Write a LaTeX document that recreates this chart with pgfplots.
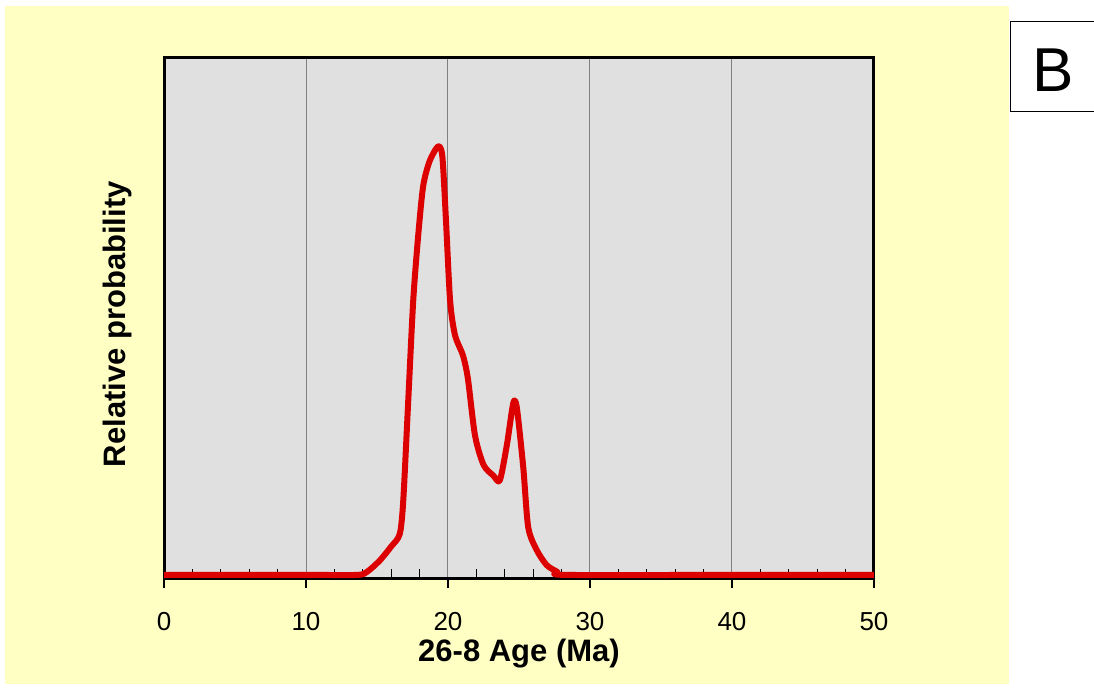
\documentclass[border=0pt]{standalone}
\usepackage{pgfplots}
\pgfplotsset{compat=1.18}
\usepackage{fontspec}
\setmainfont{Liberation Sans}
\definecolor{panelbg}{RGB}{255,255,196}
\definecolor{plotbg}{RGB}{224,224,224}
\definecolor{curve}{RGB}{220,0,0}
\begin{document}
\begin{tikzpicture}[x=1pt,y=1pt]
\path[use as bounding box] (0,0) rectangle (547,343.5);
% pale yellow panel
\fill[panelbg] (2.5,1.5) rectangle (504.5,340.5);
% panel letter
\draw[line width=0.6pt,fill=white] (505.3,287.6) rectangle (549,332.6);
\node[font=\fontsize{31}{31}\selectfont] at (526.8,308.5) {B};
\begin{axis}[
  at={(82pt,54.5pt)}, anchor=south west,
  scale only axis, width=355pt, height=260pt,
  xmin=0, xmax=50, ymin=-0.006, ymax=1,
  axis background/.style={fill=plotbg},
  axis line style={line width=1.5pt},
  xtick={0,10,...,50}, minor x tick num=4,
  ytick=\empty,
  xtick pos=bottom,
  tick align=inside,
  major tick length=0pt, minor tick length=4.5pt,
  every minor tick/.append style={line width=0.6pt, black},
  % major ticks stick out below the axis
  extra x ticks={0,10,...,50},
  extra x tick labels={},
  extra x tick style={tick align=outside, major tick length=5pt,
    xmajorgrids=false,
    every major tick/.append style={line width=0.6pt, black}},
  xmajorgrids,
  major grid style={line width=0.5pt, color=black!50},
  /pgf/number format/assume math mode=true,
  xticklabel style={font=\fontsize{13}{13}\selectfont, anchor=center, yshift=-22pt},
  xlabel={26-8 Age (Ma)},
  xlabel style={font=\fontsize{15.5}{15.5}\selectfont\bfseries,
    at={(axis description cs:0.5,-0.146)}, anchor=center},
  ylabel={Relative probability},
  ylabel style={font=\fontsize{15.5}{15.5}\selectfont\bfseries,
    at={(axis description cs:-0.066,0.488)}, anchor=center},
]
\addplot[curve, line width=3pt, smooth, tension=0.45, line join=round] coordinates {
  (0,0) (10,0) (13.6,0) (14.3,0.006) (15.2,0.028) (16.0,0.055) (16.6,0.079)
  (16.85,0.144) (17.2,0.337) (17.55,0.53) (17.9,0.656) (18.25,0.752)
  (18.7,0.80) (19.3,0.829) (19.6,0.81) (19.85,0.69) (20.15,0.53)
  (20.5,0.463) (21.05,0.425) (21.4,0.38) (21.9,0.27) (22.5,0.213)
  (23.2,0.192) (23.65,0.183) (24.15,0.252) (24.6,0.333) (24.85,0.323)
  (25.3,0.208) (25.65,0.092) (26.25,0.048) (26.95,0.019) (27.7,0.006)
  (28.3,0) (40,0) (50,0)
};
\end{axis}
\end{tikzpicture}
\end{document}
